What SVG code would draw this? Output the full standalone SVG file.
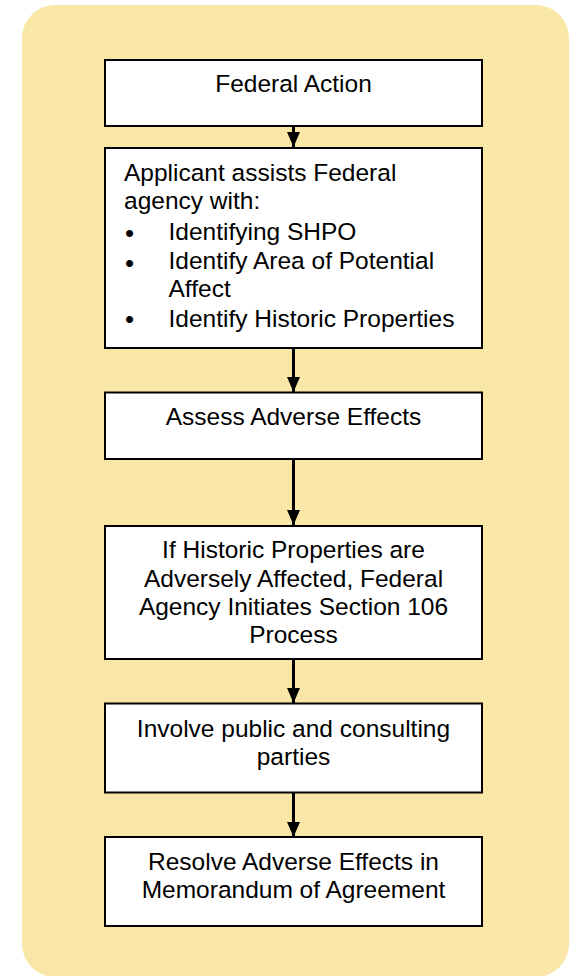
<svg xmlns="http://www.w3.org/2000/svg" width="571" height="976" viewBox="0 0 571 976">
<defs>
<style>
.box{fill:#ffffff;stroke:#000000;stroke-width:2}
.t{font-family:"Liberation Sans",Arial,sans-serif;font-size:24.5px;fill:#000000}
.c{text-anchor:middle}
.b{font-family:"Liberation Sans",Arial,sans-serif;font-size:26px;fill:#000000}
.ln{stroke:#000000;stroke-width:3;fill:none}
</style>
<marker id="ah" viewBox="0 0 15 13" refX="15" refY="6.5" markerWidth="15" markerHeight="13" markerUnits="userSpaceOnUse" orient="auto">
<path d="M0,0 L15,6.5 L0,13 Z" fill="#000000"/>
</marker>
</defs>
<rect x="22" y="5" width="547" height="972" rx="33" ry="33" fill="#F9E7A8"/>
<g id="connectors">
<line class="ln" x1="293.5" y1="126" x2="293.5" y2="147" marker-end="url(#ah)"/>
<line class="ln" x1="293.5" y1="348" x2="293.5" y2="392" marker-end="url(#ah)"/>
<line class="ln" x1="293.5" y1="459" x2="293.5" y2="525" marker-end="url(#ah)"/>
<line class="ln" x1="293.5" y1="659" x2="293.5" y2="703" marker-end="url(#ah)"/>
<line class="ln" x1="293.5" y1="793" x2="293.5" y2="837" marker-end="url(#ah)"/>
</g>
<g id="n1">
<rect class="box" x="105" y="60" width="377" height="66"/>
<text class="t c" x="293.5" y="92">Federal Action</text>
</g>
<g id="n2">
<rect class="box" x="105" y="148" width="377" height="200"/>
<text class="t" x="124" y="181">Applicant assists Federal</text>
<text class="t" x="124" y="209">agency with:</text>
<text class="b" x="125" y="241.5">•</text>
<text class="t" x="168.5" y="240">Identifying SHPO</text>
<text class="b" x="125" y="271.5">•</text>
<text class="t" x="168.5" y="269">Identify Area of Potential</text>
<text class="t" x="168.5" y="297">Affect</text>
<text class="b" x="125" y="328">•</text>
<text class="t" x="168.5" y="327">Identify Historic Properties</text>
</g>
<g id="n3">
<rect class="box" x="105" y="392.5" width="377" height="66.5"/>
<text class="t c" x="293.5" y="425">Assess Adverse Effects</text>
</g>
<g id="n4">
<rect class="box" x="105" y="526" width="377" height="133"/>
<text class="t c" x="293.5" y="558">If Historic Properties are</text>
<text class="t c" x="293.5" y="587">Adversely Affected, Federal</text>
<text class="t c" x="293.5" y="615">Agency Initiates Section 106</text>
<text class="t c" x="293.5" y="643">Process</text>
</g>
<g id="n5">
<rect class="box" x="105" y="703.5" width="377" height="89"/>
<text class="t c" x="293.5" y="737">Involve public and consulting</text>
<text class="t c" x="293.5" y="765">parties</text>
</g>
<g id="n6">
<rect class="box" x="105" y="837" width="377" height="89"/>
<text class="t c" x="293.5" y="870">Resolve Adverse Effects in</text>
<text class="t c" x="293.5" y="898">Memorandum of Agreement</text>
</g>
</svg>
